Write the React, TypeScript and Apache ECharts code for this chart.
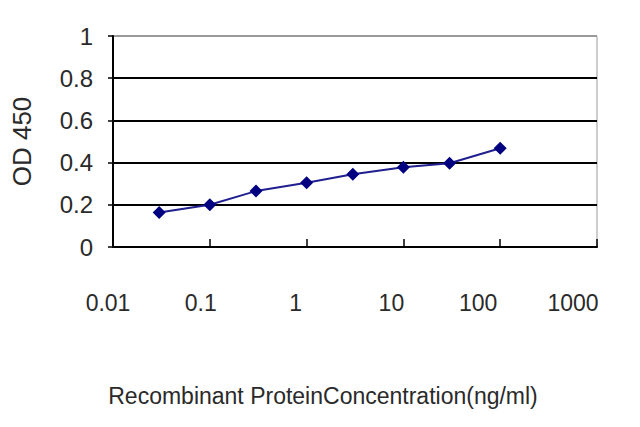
import React, { useEffect, useRef } from "react";
import * as echarts from "echarts";

const concentrations = [0.03, 0.1, 0.3, 1, 3, 10, 30, 100];
const odValues = [0.163, 0.2, 0.265, 0.305, 0.345, 0.378, 0.397, 0.468];
const xTickLabels = ["0.01", "0.1", "1", "10", "100", "1000"];
const yTickLabels = ["0", "0.2", "0.4", "0.6", "0.8", "1"];
const xTitle = "Recombinant ProteinConcentration(ng/ml)";
const yTitle = "OD 450";

const labelShift = [10, 18, 22, 24, 44, 48];
const font = "Liberation Sans, Arial, sans-serif";
const textColor = "#2a2a2a";

export default function App() {
  const ref = useRef<HTMLDivElement>(null);
  useEffect(() => {
    document.body.style.margin = "0";
    if (!ref.current) return;
    const chart = echarts.init(ref.current, undefined, { renderer: "svg" });
    const rich: Record<string, any> = {};
    labelShift.forEach((s, i) => {
      rich["a" + i] = {
        fontSize: 23,
        fontFamily: font,
        color: textColor,
        padding: [0, s, 0, 0],
      };
    });
    chart.setOption({
      animation: false,
      backgroundColor: "#ffffff",
      grid: {
        left: 113,
        right: 43,
        top: 36,
        bottom: 180,
        show: true,
        borderColor: "#9a9a9a",
        borderWidth: 1,
      },
      xAxis: {
        type: "log",
        logBase: 10,
        min: 0.01,
        max: 1000,
        name: xTitle,
        nameLocation: "middle",
        nameGap: 137,
        nameTextStyle: {
          fontSize: 23,
          fontFamily: font,
          color: textColor,
          padding: [0, 64, 0, 0],
        },
        axisLine: { show: true, lineStyle: { color: "#000", width: 2 } },
        axisTick: { show: true, inside: true, length: 8, lineStyle: { color: "#000", width: 1.5 } },
        splitLine: { show: false },
        minorTick: { show: false },
        axisLabel: {
          margin: 44,
          formatter: (_v: number, i: number) => `{a${i}|${xTickLabels[i] ?? ""}}`,
          rich,
        },
      },
      yAxis: {
        type: "value",
        min: 0,
        max: 1,
        interval: 0.2,
        name: yTitle,
        nameLocation: "middle",
        nameGap: 78,
        nameRotate: 90,
        nameTextStyle: { fontSize: 26, fontFamily: font, color: textColor },
        axisLine: { show: true, lineStyle: { color: "#000", width: 2 } },
        axisTick: { show: true, inside: false, length: 5, lineStyle: { color: "#000", width: 1.5 } },
        splitLine: {
          show: true,
          lineStyle: {
            color: ["#000", "#000", "#000", "#000", "#000", "#9a9a9a"],
            width: 2,
          },
        },
        axisLabel: {
          margin: 20,
          fontSize: 24,
          fontFamily: font,
          color: textColor,
          formatter: (_v: number, i: number) => yTickLabels[i] ?? "",
        },
      },
      series: [
        {
          type: "line",
          data: concentrations.map((c, i) => [c, odValues[i]]),
          symbol: "diamond",
          symbolSize: 13,
          lineStyle: { color: "#1f1f8f", width: 2 },
          itemStyle: { color: "#000080" },
        },
      ],
    });
    return () => chart.dispose();
  }, []);
  return <div ref={ref} style={{ width: 640, height: 427 }} />;
}
